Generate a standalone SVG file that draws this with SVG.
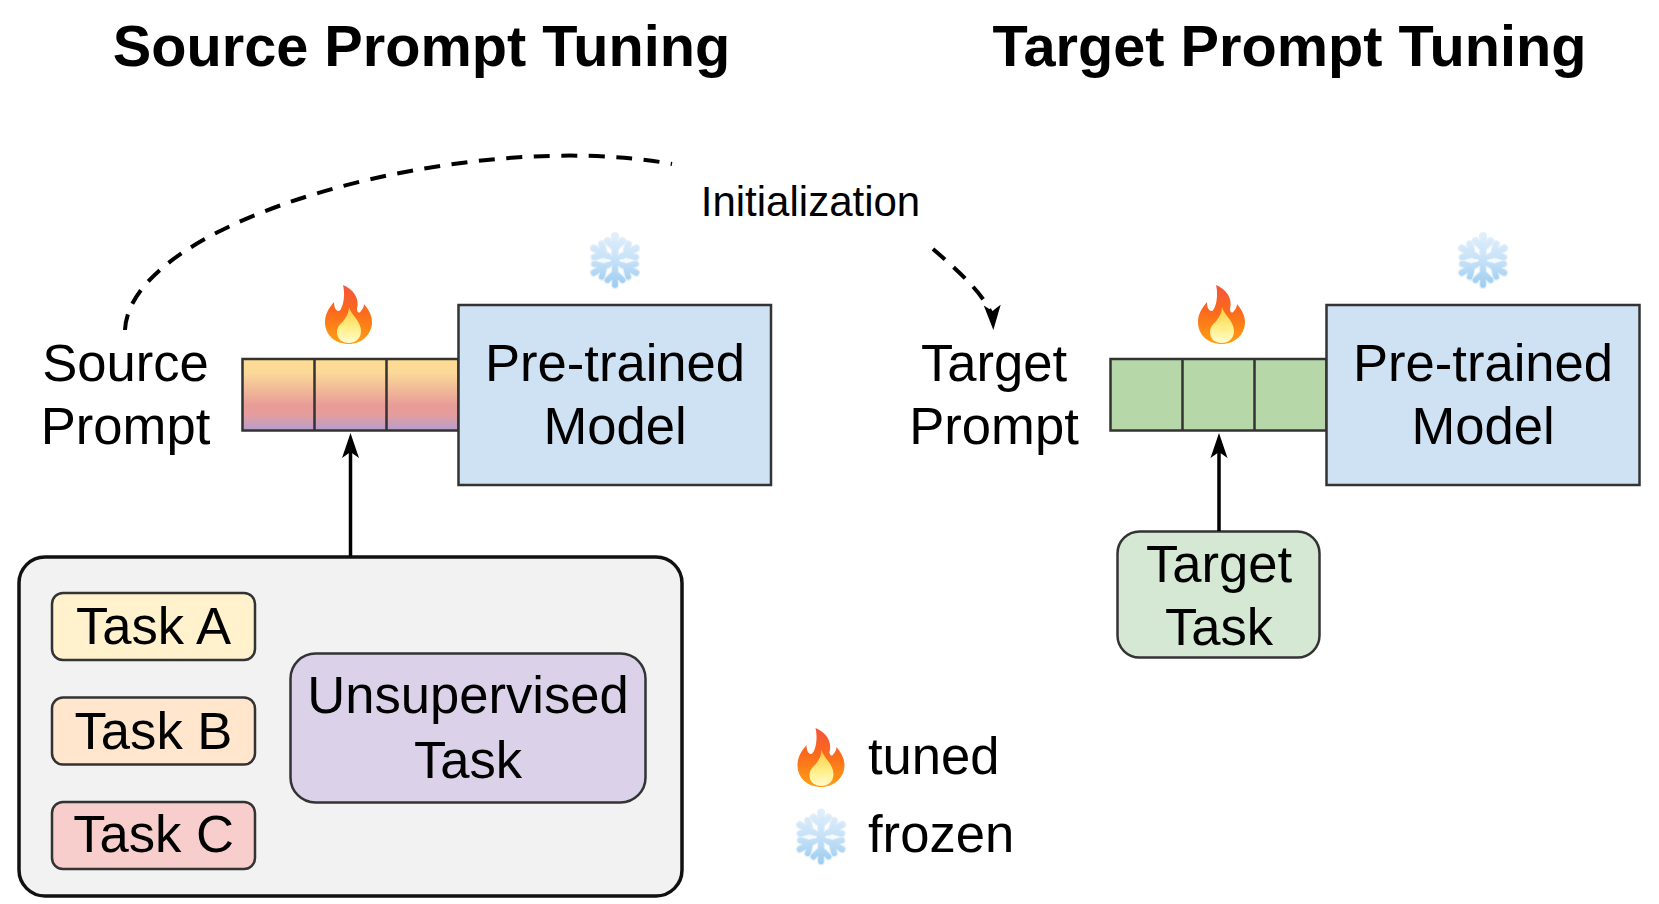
<svg xmlns="http://www.w3.org/2000/svg" xmlns:xlink="http://www.w3.org/1999/xlink" width="1659" height="904" viewBox="0 0 1659 904">
<style>
text{font-family:"Liberation Sans",Arial,sans-serif;fill:#000;text-anchor:middle}
.title{font-size:57.7px;font-weight:700}
.label{font-size:52.6px}
.small{font-size:42px}
.left{text-anchor:start}
.box{stroke:#333;stroke-width:2.5}
.model{fill:#cfe2f3}
.cell{fill:none;stroke:#333;stroke-width:2.5}
.conn{fill:none;stroke:#000;stroke-width:3.5}
.dash{stroke-width:4;stroke-dasharray:16 11.5}
</style>
<defs>
<linearGradient id="srcGrad" x1="0" y1="0" x2="0" y2="1">
<stop offset="0" stop-color="#ffdd93"/><stop offset="0.2" stop-color="#fad898"/><stop offset="0.65" stop-color="#e89c98"/><stop offset="0.78" stop-color="#e59d9d"/><stop offset="1" stop-color="#b29fd0"/>
</linearGradient>
<linearGradient id="flameOuter" x1="0" y1="0" x2="0" y2="1">
<stop offset="0" stop-color="#f4553a"/><stop offset="0.45" stop-color="#fb6a1c"/><stop offset="1" stop-color="#ffa012"/>
</linearGradient>
<linearGradient id="flameInner" x1="0" y1="0" x2="0" y2="1">
<stop offset="0" stop-color="#ffc93f"/><stop offset="0.6" stop-color="#fff08a"/><stop offset="1" stop-color="#fffbd0"/>
</linearGradient>
<linearGradient id="snowGrad" x1="0" y1="0" x2="0" y2="1">
<stop offset="0" stop-color="#e6f2fc"/><stop offset="0.5" stop-color="#c6e1f7"/><stop offset="1" stop-color="#8fc6f0"/>
</linearGradient>
<marker id="head" markerUnits="userSpaceOnUse" markerWidth="26" markerHeight="18" refX="17" refY="9" orient="auto">
<path d="M25 9L0 .5L6 9L0 17.5Z" fill="#000"/>
</marker>
<g id="flame">
<path d="M18 0C28 4 35 13 32 24C32 27 34 29 36 26C38 24 39 21 39 19C44 25 47 31 47 37C47 50 36 59 24 59C10 59 0 50 0 37C0 29 4 23 9 17C9 21 10 25 13 26C17 27 21 12 18 0Z" fill="url(#flameOuter)"/>
<path d="M24 22C26 30 36 36 36 46C36 54 30 58 24 58C17 58 12 54 12 47C12 41 16 39 19 35C22 31 24 27 24 22Z" fill="url(#flameInner)"/>
</g>
<path id="arm" d="M26 28.5V4M26 16L18.500 9M26 16L33.500 9"/>
<g id="arms" fill="none" stroke-linecap="round">
<use xlink:href="#arm" href="#arm"/>
<use xlink:href="#arm" href="#arm" transform="rotate(60 26 28.5)"/>
<use xlink:href="#arm" href="#arm" transform="rotate(120 26 28.5)"/>
<use xlink:href="#arm" href="#arm" transform="rotate(180 26 28.5)"/>
<use xlink:href="#arm" href="#arm" transform="rotate(240 26 28.5)"/>
<use xlink:href="#arm" href="#arm" transform="rotate(300 26 28.5)"/>
</g>
<mask id="snowMask" maskUnits="userSpaceOnUse" x="-5" y="-5" width="62" height="67">
<use xlink:href="#arms" href="#arms" stroke="#fff" stroke-width="5.5"/>
</mask>
<g id="snow">
<use xlink:href="#arms" href="#arms" stroke="#e4f0fa" stroke-width="8"/>
<rect x="-5" y="-5" width="62" height="67" fill="url(#snowGrad)" mask="url(#snowMask)"/>
<ellipse cx="16" cy="28.5" rx="6" ry="1.8" fill="#f4f9fe"/>
<ellipse cx="36" cy="28.5" rx="6" ry="1.8" fill="#f4f9fe"/>
</g>
</defs>
<rect width="1659" height="904" fill="#fff"/>
<g id="titles">
<text class="title" x="421.500" y="66">Source Prompt Tuning</text>
<text class="title" x="1289.500" y="66">Target Prompt Tuning</text>
</g>
<g id="source-prompt-label">
<text class="label" x="125.500" y="381">Source</text>
<text class="label" x="125.500" y="444">Prompt</text>
</g>
<g id="source-prompt">
<rect x="242.500" y="359" width="216" height="71.500" fill="url(#srcGrad)" class="box"/>
<path class="cell" d="M314.500 359V430.500M386.500 359V430.500"/>
</g>
<g id="source-model">
<rect class="box model" x="458.500" y="305" width="312.500" height="180"/>
<text class="label" x="615" y="381">Pre-trained</text>
<text class="label" x="615" y="444">Model</text>
</g>
<g id="target-prompt-label">
<text class="label" x="994" y="381">Target</text>
<text class="label" x="994" y="444">Prompt</text>
</g>
<g id="target-prompt">
<rect x="1110.500" y="359" width="216" height="71.500" fill="#b6d7a8" class="box"/>
<path class="cell" d="M1182.500 359V430.500M1254.500 359V430.500"/>
</g>
<g id="target-model">
<rect class="box model" x="1326.500" y="305" width="313" height="180"/>
<text class="label" x="1483" y="381">Pre-trained</text>
<text class="label" x="1483" y="444">Model</text>
</g>
<g id="task-group">
<rect x="19" y="557" width="663" height="339" rx="26" fill="#f2f2f2" stroke="#111" stroke-width="3.500"/>
</g>
<g id="task-a">
<rect class="box" x="52" y="593" width="203" height="67" rx="11" fill="#fff2cc"/>
<text class="label" x="153.500" y="644">Task A</text>
</g>
<g id="task-b">
<rect class="box" x="52" y="697.500" width="203" height="67" rx="11" fill="#ffe6cc"/>
<text class="label" x="153.500" y="749">Task B</text>
</g>
<g id="task-c">
<rect class="box" x="52" y="802" width="203" height="67" rx="11" fill="#f8cecc"/>
<text class="label" x="153.500" y="852">Task C</text>
</g>
<g id="unsupervised-task">
<rect class="box" x="290.500" y="653.500" width="355" height="149" rx="25" fill="#dbd2e9"/>
<text class="label" x="468" y="713">Unsupervised</text>
<text class="label" x="468" y="778">Task</text>
</g>
<g id="target-task">
<rect class="box" x="1117.500" y="531.500" width="202" height="126" rx="22" fill="#d5e8d4"/>
<text class="label" x="1219" y="581.500">Target</text>
<text class="label" x="1219" y="644.500">Task</text>
</g>
<g id="connectors">
<path class="conn" d="M350.500 556V441" marker-end="url(#head)"/>
<path class="conn" d="M1219 531V441" marker-end="url(#head)"/>
<path class="conn dash" d="M125 330C130 218 470 127 672 164"/>
<path class="conn dash" d="M933 249C955 268 992 300 993 322" marker-end="url(#head)"/>
</g>
<g id="initialization-label">
<text class="small" x="810.500" y="216">Initialization</text>
</g>
<g id="icons">
<use xlink:href="#flame" href="#flame" x="325" y="285"/>
<use xlink:href="#flame" href="#flame" x="1198" y="285"/>
<use xlink:href="#snow" href="#snow" x="589" y="232"/>
<use xlink:href="#snow" href="#snow" x="1457" y="232"/>
</g>
<g id="legend-tuned">
<use xlink:href="#flame" href="#flame" x="797.500" y="728"/>
<text class="label left" x="868" y="774">tuned</text>
</g>
<g id="legend-frozen">
<use xlink:href="#snow" href="#snow" x="795" y="808.500"/>
<text class="label left" x="868" y="852">frozen</text>
</g>
</svg>
